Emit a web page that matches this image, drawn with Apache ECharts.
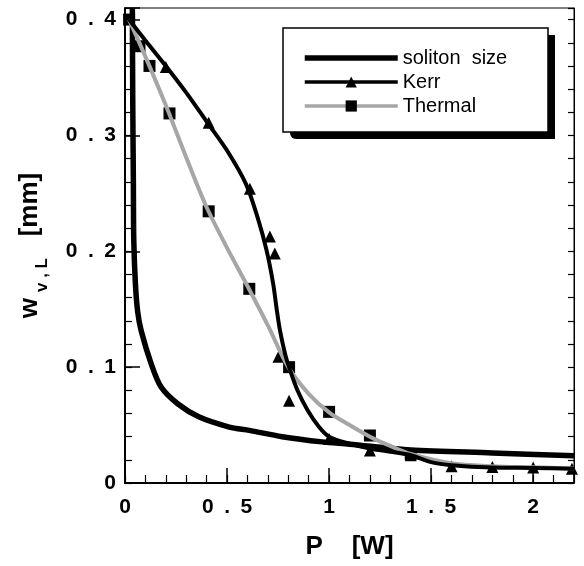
<!DOCTYPE html>
<html>
<head>
<meta charset="utf-8">
<script src="https://cdn.jsdelivr.net/npm/echarts@6/dist/echarts.min.js"></script>
<style>
  html, body { margin: 0; padding: 0; background: #fff; }
  #chart { width: 584px; height: 566px; }
</style>
</head>
<body>
<div id="chart"></div>
<script>
// tick labels
var xTicks = [0, 0.5, 1, 1.5, 2];
var yTicks = [0, 0.1, 0.2, 0.3, 0.4];

// fitted curves [P (W), w (mm)]
var solitonSize = [[0.036, 0.41], [0.038, 0.33], [0.041, 0.26], [0.043, 0.21], [0.051, 0.172],
    [0.062, 0.148], [0.079, 0.1316], [0.128, 0.103], [0.177, 0.0828], [0.258, 0.0684],
    [0.364, 0.0569], [0.511, 0.0483], [0.609, 0.0454], [0.77, 0.04], [0.966, 0.0355],
    [1.1, 0.0335], [1.4, 0.0285], [1.8, 0.026], [2.2, 0.0235]];
var kerrFit = [[0.02, 0.40], [0.1, 0.382], [0.2, 0.36], [0.3, 0.337], [0.4, 0.312], [0.5, 0.287],
    [0.593, 0.258], [0.65, 0.229], [0.694, 0.2006], [0.726, 0.172], [0.744, 0.149],
    [0.76, 0.131], [0.785, 0.111], [0.804, 0.1], [0.845, 0.08], [0.894, 0.063], [0.95, 0.0485],
    [1.0, 0.04], [1.1, 0.034], [1.2, 0.0297], [1.3, 0.027], [1.4, 0.024], [1.5, 0.018],
    [1.6, 0.0153], [1.8, 0.0133], [2.0, 0.013], [2.2, 0.0122]];
var thermalFit = [[0.02, 0.40], [0.1, 0.368], [0.2, 0.326], [0.3, 0.281], [0.4, 0.238], [0.5, 0.203],
    [0.6, 0.17], [0.7, 0.136], [0.8, 0.1], [0.9, 0.077], [1.0, 0.061], [1.1, 0.05], [1.2, 0.04],
    [1.3, 0.032], [1.4, 0.025], [1.6, 0.017], [1.8, 0.0145], [2.0, 0.0135], [2.2, 0.0125]];

// measured points
var kerrPts = [[0.2, 0.359], [0.41, 0.311], [0.612, 0.254], [0.71, 0.2127], [0.734, 0.198],
    [0.752, 0.109], [0.804, 0.071], [1.0, 0.038], [1.2, 0.028], [1.4, 0.024], [1.6, 0.0144],
    [1.8, 0.0138], [2.0, 0.0133], [2.19, 0.0124]];
var thermalPts = [[0.02, 0.40], [0.071, 0.377], [0.12, 0.36], [0.218, 0.319], [0.41, 0.2345],
    [0.609, 0.1676], [0.804, 0.1], [1.0, 0.0614], [1.2, 0.041], [1.4, 0.025]];

var FONT = "'Liberation Sans', Arial, sans-serif";

function tickFmt(list) {
    return function(v) {
        for (var i = 0; i < list.length; i++) {
            if (Math.abs(list[i] - v) < 1e-6) {
                return String(list[i]).replace('.', '\u2002.\u2002');
            }
        }
        return '';
    };
}

var chart = echarts.init(document.getElementById('chart'));

chart.setOption({
    animation: false,
    grid: {
        left: 125, right: 10, top: 8, bottom: 83,
        show: true, borderColor: '#000', borderWidth: 1
    },
    // legend frame with its drop shadow
    graphic: [{
        type: 'rect', z: 0,
        shape: { x: 290, y: 35, width: 265, height: 104, r: [0, 0, 0, 6] },
        style: { fill: '#000' }
    }, {
        type: 'rect', z: 1,
        shape: { x: 283, y: 28, width: 265, height: 104 },
        style: { fill: '#fff', stroke: '#000', lineWidth: 1.5 }
    }],
    legend: {
        left: 283, top: 28, z: 10,
        orient: 'vertical',
        padding: [20, 40, 18, 19],
        itemWidth: 93, itemHeight: 14, itemGap: 4,
        textStyle: { fontFamily: FONT, fontSize: 20, color: '#000' },
        data: [
            { name: 'soliton  size', itemStyle: { color: 'rgba(0,0,0,0)', borderWidth: 0 },
              lineStyle: { width: 5.5, color: '#000' } },
            { name: 'Kerr', lineStyle: { width: 3.5, color: '#000' } },
            { name: 'Thermal', itemStyle: { color: '#000', borderColor: '#000' },
              lineStyle: { width: 3.5, color: '#a6a6a6' } }
        ]
    },
    xAxis: [{
        type: 'value', min: 0, max: 2.2, interval: 0.5,
        name: 'P    [W]', nameLocation: 'middle', nameGap: 51,
        nameTextStyle: { fontFamily: FONT, fontSize: 26, fontWeight: 'bold', color: '#000' },
        axisLine: { lineStyle: { color: '#000', width: 2 } },
        axisTick: { inside: true, length: 15, lineStyle: { color: '#000', width: 1.5 } },
        axisLabel: { margin: 14, formatter: tickFmt(xTicks), fontFamily: FONT, fontSize: 21, fontWeight: 'bold', color: '#000' },
        splitLine: { show: false }
    }, {
        type: 'value', min: 0, max: 2.2, interval: 0.1, position: 'bottom',
        axisLine: { show: false },
        axisTick: { inside: true, length: 8, lineStyle: { color: '#000', width: 1.2 } },
        axisLabel: { show: false },
        splitLine: { show: false }
    }],
    yAxis: [{
        type: 'value', min: 0, max: 0.41, interval: 0.1, position: 'left',
        name: '{w|w}{s|v , L}{t|   [mm]}', nameLocation: 'middle', nameGap: 74,
        nameTextStyle: {
            fontFamily: FONT, fontWeight: 'bold', color: '#000',
            rich: {
                w: { fontFamily: FONT, fontSize: 26, fontWeight: 'bold', color: '#000' },
                s: { fontFamily: FONT, fontSize: 17, fontWeight: 'bold', color: '#000', padding: [26, 0, 0, 6] },
                t: { fontFamily: FONT, fontSize: 26, fontWeight: 'bold', color: '#000' }
            }
        },
        axisLine: { lineStyle: { color: '#000', width: 2 } },
        axisTick: { inside: true, length: 15, lineStyle: { color: '#000', width: 1.5 } },
        axisLabel: { margin: 9, formatter: tickFmt(yTicks), fontFamily: FONT, fontSize: 21, fontWeight: 'bold', color: '#000' },
        splitLine: { show: false }
    }, {
        type: 'value', min: 0, max: 0.41, interval: 0.02, position: 'left',
        axisLine: { show: false },
        axisTick: { inside: true, length: 7, lineStyle: { color: '#000', width: 1.2 } },
        axisLabel: { show: false },
        splitLine: { show: false }
    }, {
        type: 'value', min: 0, max: 0.41, interval: 0.02, position: 'right',
        axisLine: { show: true, lineStyle: { color: '#000', width: 1 } },
        axisTick: { inside: true, length: 6, lineStyle: { color: '#000', width: 1.2 } },
        axisLabel: { show: false },
        splitLine: { show: false }
    }],
    series: [{
        name: 'soliton  size', type: 'line', smooth: 0.3,
        symbol: 'none', data: solitonSize,
        lineStyle: { color: '#000', width: 5.5 }, itemStyle: { color: '#000' }
    }, {
        name: 'Thermal', type: 'line', smooth: 0.3,
        symbol: 'rect', showSymbol: false, data: thermalFit,
        lineStyle: { color: '#a6a6a6', width: 4 }, itemStyle: { color: '#000' }
    }, {
        name: 'Kerr', type: 'line', smooth: 0.3,
        symbol: 'triangle', showSymbol: false, data: kerrFit,
        lineStyle: { color: '#000', width: 4 }, itemStyle: { color: '#000' }
    }, {
        name: 'Kerr data', type: 'scatter', symbol: 'triangle', symbolSize: 12,
        data: kerrPts, itemStyle: { color: '#000', opacity: 1 }
    }, {
        name: 'Thermal data', type: 'scatter', symbol: 'rect', symbolSize: 12,
        data: thermalPts, itemStyle: { color: '#000', opacity: 1 }
    }]
});
</script>
</body>
</html>
